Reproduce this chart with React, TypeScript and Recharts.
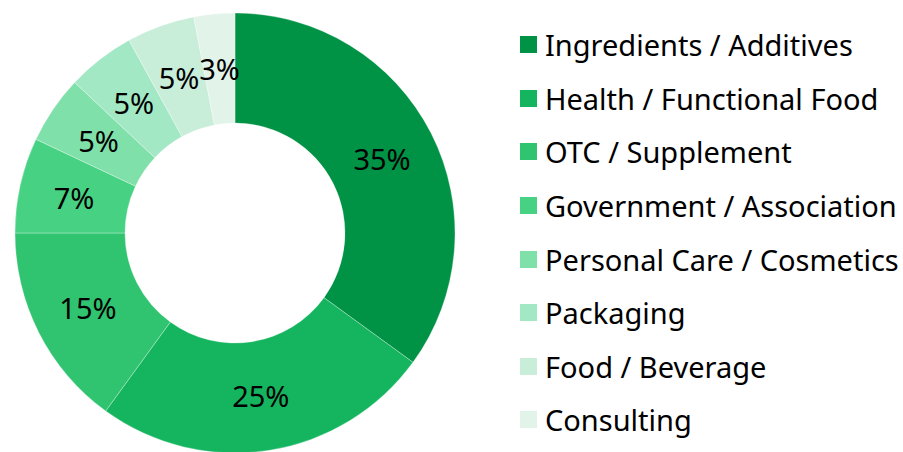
import React from "react";
import { PieChart, Pie, Cell, Legend } from "recharts";

const categories = [
  "Ingredients / Additives",
  "Health / Functional Food",
  "OTC / Supplement",
  "Government / Association",
  "Personal Care / Cosmetics",
  "Packaging",
  "Food / Beverage",
  "Consulting",
];
const shares = [35, 25, 15, 7, 5, 5, 5, 3];
const colors = ["#009245", "#15b55f", "#30c470", "#47d283", "#7fe0a9", "#a3e8c4", "#c8eeda", "#e2f3ea"];

const data = categories.map((name, i) => ({ name, value: shares[i] }));

const FONT = "'Noto Sans', 'Open Sans', sans-serif";
const RAD = Math.PI / 180;

const renderLabel = (props: any) => {
  const { cx, cy, midAngle, innerRadius, outerRadius, value } = props;
  const r = (innerRadius + outerRadius) / 2;
  const x = cx + r * Math.cos(-midAngle * RAD);
  const y = cy + r * Math.sin(-midAngle * RAD);
  return (
    <text x={x} y={y} textAnchor="middle" dominantBaseline="central" fontSize={29} fontFamily={FONT} fill="#000">
      {`${value}%`}
    </text>
  );
};

const renderLegend = () => (
  <div style={{ fontFamily: FONT, fontSize: 29, color: "#000" }}>
    {categories.map((c, i) => (
      <div key={c} style={{ display: "flex", alignItems: "center", height: 53.6 }}>
        <span style={{ display: "inline-block", width: 17, height: 17, background: colors[i], marginRight: 8, flex: "none" }} />
        <span style={{ whiteSpace: "nowrap" }}>{c}</span>
      </div>
    ))}
  </div>
);

export default function App() {
  return (
    <div style={{ position: "absolute", left: 0, top: 0, width: 903, height: 452, background: "#fff", overflow: "hidden" }}>
      <PieChart width={903} height={452} margin={{ top: 0, right: 0, bottom: 0, left: 0 }}>
        <Pie
          data={data}
          dataKey="value"
          nameKey="name"
          cx={235}
          cy={233}
          innerRadius={110}
          outerRadius={220}
          startAngle={90}
          endAngle={-270}
          stroke="#ffffff"
          strokeWidth={0.3}
          label={renderLabel}
          labelLine={false}
          isAnimationActive={false}
        >
          {data.map((d, i) => (
            <Cell key={d.name} fill={colors[i]} />
          ))}
        </Pie>
        <Legend
          layout="vertical"
          align="right"
          verticalAlign="top"
          content={renderLegend}
          wrapperStyle={{ left: 520, top: 18, width: 383 }}
        />
      </PieChart>
    </div>
  );
}
